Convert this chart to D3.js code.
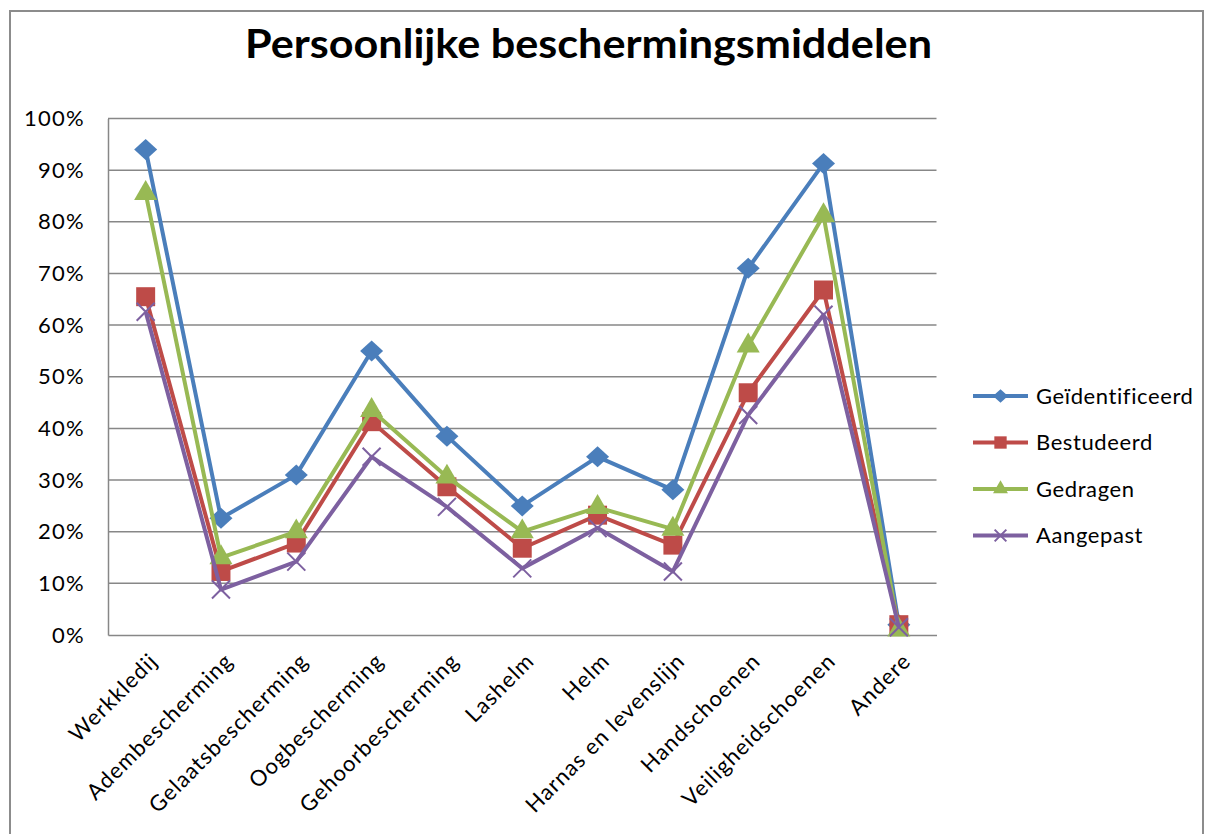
<!DOCTYPE html>
<head>
  <meta charset="utf-8">
  <title>Persoonlijke beschermingsmiddelen</title>
  <script src="https://d3js.org/d3.v7.min.js"></script>
  <style>
    body { margin:0; background:#fff; }
    svg { display:block; }
    text { font-family: Lato, "Open Sans", sans-serif; fill:#000; }
  </style>
</head>
<body>
  <svg width="1205" height="834"></svg>
  <script>
    var width = 1205;
    var height = 834;
    var margin = {top: 118.5, bottom: 199, left: 108, right: 268.5};

    // data
    var categories = ['Werkkledij', 'Adembescherming', 'Gelaatsbescherming', 'Oogbescherming',
      'Gehoorbescherming', 'Lashelm', 'Helm', 'Harnas en levenslijn', 'Handschoenen',
      'Veiligheidschoenen', 'Andere'];
    var seriesNames = ['Geïdentificeerd', 'Bestudeerd', 'Gedragen', 'Aangepast'];
    var geidentificeerd = [0.94, 0.226, 0.31, 0.55, 0.385, 0.25, 0.345, 0.281, 0.71, 0.913, 0.02];
    var bestudeerd      = [0.655, 0.123, 0.178, 0.413, 0.287, 0.168, 0.232, 0.174, 0.469, 0.668, 0.02];
    var gedragen        = [0.855, 0.15, 0.20, 0.435, 0.306, 0.20, 0.247, 0.205, 0.56, 0.812, 0.01];
    var aangepast       = [0.626, 0.088, 0.142, 0.345, 0.248, 0.129, 0.207, 0.123, 0.426, 0.62, 0.015];
    var yTicks = [0, 0.1, 0.2, 0.3, 0.4, 0.5, 0.6, 0.7, 0.8, 0.9, 1];

    var colors = ['#4A7EBB', '#BE4B48', '#98B954', '#7D60A0'];
    var symbols = ['diamond', 'square', 'triangle', 'cross'];
    var series = [geidentificeerd, bestudeerd, gedragen, aangepast].map((vals, i) => ({
      name: seriesNames[i], color: colors[i], symbol: symbols[i],
      values: vals.map((v, j) => ({cat: categories[j], v: v}))
    }));

    var svg = d3.select('svg');

    // outer chart frame
    svg.append('rect')
      .attr('x', 10).attr('y', 11)
      .attr('width', 1193).attr('height', 840)
      .attr('fill', 'none').attr('stroke', '#8c8c8c').attr('stroke-width', 2);

    // title
    svg.append('text')
      .attr('x', 245).attr('y', 58)
      .attr('textLength', 687).attr('lengthAdjust', 'spacingAndGlyphs')
      .style('font-size', '40px').style('font-weight', 'bold')
      .text('Persoonlijke beschermingsmiddelen');

    // scales
    var xScale = d3.scalePoint()
      .domain(categories)
      .range([margin.left, width - margin.right])
      .padding(0.5);
    var yScale = d3.scaleLinear()
      .domain([0, 1])
      .range([height - margin.bottom, margin.top]);

    // gridlines
    svg.append('g')
      .selectAll('line')
      .data(yTicks.slice(1))
      .join('line')
      .attr('x1', margin.left).attr('x2', width - margin.right)
      .attr('y1', d => yScale(d)).attr('y2', d => yScale(d))
      .attr('stroke', '#878787').attr('stroke-width', 1.5);

    // y axis
    var yAxis = d3.axisLeft(yScale)
      .tickValues(yTicks)
      .tickFormat(d3.format('.0%'))
      .tickSize(0)
      .tickPadding(23);
    var yg = svg.append('g')
      .attr('transform', 'translate(' + [margin.left, 0] + ')')
      .call(yAxis);
    yg.select('.domain').attr('stroke', '#878787').attr('stroke-width', 1.5);
    yg.selectAll('text')
      .style('font-size', '22px').style('font-family', 'Lato, sans-serif')
      .style('letter-spacing', '1.3px');

    // x axis
    var xAxis = d3.axisBottom(xScale).tickSize(0).tickFormat('');
    var xg = svg.append('g')
      .attr('transform', 'translate(' + [0, height - margin.bottom] + ')')
      .call(xAxis);
    xg.select('.domain').attr('stroke', '#878787').attr('stroke-width', 1.5);

    svg.append('g')
      .selectAll('text')
      .data(categories)
      .join('text')
      .attr('transform', d => 'translate(' + [xScale(d) + 8, height - margin.bottom + 22] + ') rotate(-45)')
      .attr('text-anchor', 'end')
      .attr('dy', '0.35em')
      .style('font-size', '22px')
      .style('letter-spacing', '1.1px')
      .text(d => d);

    // marker drawing
    function marker(sel, s, scale) {
      var p;
      if (s.symbol === 'cross') {
        var r = 9 * scale;
        sel.append('path')
          .attr('d', 'M' + (-r) + ',' + (-r) + 'L' + r + ',' + r + 'M' + (-r) + ',' + r + 'L' + r + ',' + (-r))
          .attr('stroke', s.color).attr('stroke-width', 2).attr('fill', 'none');
        return;
      }
      if (s.symbol === 'diamond') {
        var w = 11.5 * scale, h = 10.5 * scale;
        p = 'M0,' + (-h) + 'L' + w + ',0L0,' + h + 'L' + (-w) + ',0Z';
      } else {
        var type = {square: d3.symbolSquare, triangle: d3.symbolTriangle}[s.symbol];
        var size = {square: 360, triangle: 230}[s.symbol] * scale * scale;
        p = d3.symbol().type(type).size(size)();
      }
      sel.append('path').attr('d', p).attr('fill', s.color);
    }

    var line = d3.line()
      .x(d => xScale(d.cat))
      .y(d => yScale(d.v));

    series.forEach(s => {
      svg.append('path')
        .attr('d', line(s.values))
        .attr('fill', 'none')
        .attr('stroke', s.color)
        .attr('stroke-width', 4)
        .attr('stroke-linejoin', 'round');
      svg.append('g')
        .selectAll('g')
        .data(s.values)
        .join('g')
        .attr('transform', d => 'translate(' + [xScale(d.cat), yScale(d.v)] + ')')
        .each(function() { marker(d3.select(this), s, 1); });
    });

    // legend
    var legend = svg.append('g')
      .selectAll('g')
      .data(series)
      .join('g')
      .attr('transform', (d, i) => 'translate(' + [973, 396 + i * 46.5] + ')');
    legend.append('line')
      .attr('x1', 0).attr('x2', 55)
      .attr('stroke', d => d.color).attr('stroke-width', 4);
    legend.each(function(d) {
      var g = d3.select(this).append('g').attr('transform', 'translate(27.5,0)');
      marker(g, d, 0.65);
    });
    legend.append('text')
      .attr('x', 63).attr('dy', '0.35em')
      .style('font-size', '22px')
      .style('letter-spacing', '0.6px')
      .text(d => d.name);
  </script>
</body>
